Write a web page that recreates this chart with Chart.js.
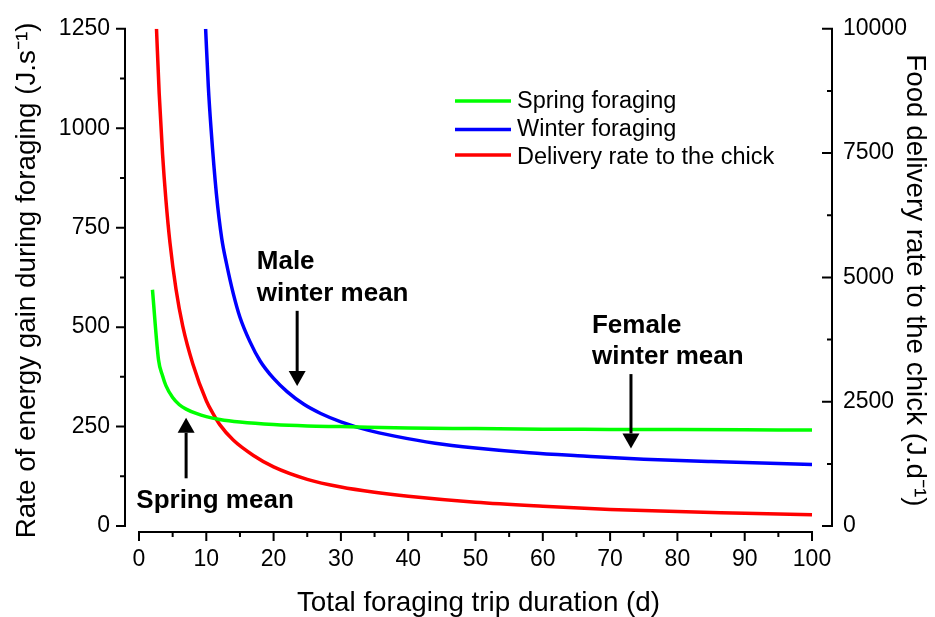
<!DOCTYPE html>
<html>
<head>
<meta charset="utf-8">
<script src="https://cdn.jsdelivr.net/npm/chart.js@4.4.0/dist/chart.umd.min.js"></script>
<style>
    html, body { margin: 0; padding: 0; background: #fff; }
    #grafico { display: block; }
</style>
</head>
<body>
<canvas id="grafico" width="935" height="617"></canvas>
<script>
const FONTE = '"Liberation Sans", Arial, Helvetica, sans-serif';

// duração da viagem (d) e ganho de energia na primavera (J/s)
const diasPrimavera = [2, 2.9, 3.5, 4, 5, 6, 7, 8.5, 10, 12, 15, 20, 25, 30, 40, 50, 60, 70, 80, 90, 100];
const ganhoPrimavera = [594, 418, 378, 353, 323, 305, 294, 283, 275, 268, 261.5, 255, 251.5, 250, 246.5, 245, 243.5, 243, 242.5, 242, 241.5];

// inverno (J/s)
const diasInverno = [9.9, 10.3, 10.7, 11.5, 12.3, 13, 14, 15, 16.5, 18, 20, 22, 24.5, 27, 30, 34, 38, 44, 50, 58, 66, 75, 85, 100];
const ganhoInverno = [1250, 1105, 1000, 835, 722, 660, 585, 525, 463, 415, 371, 338, 306, 283, 262, 241, 226, 208, 196, 184, 176, 168, 162, 155];

// entrega ao filhote (J/d), eixo da direita
const diasEntrega = [2.6, 3, 3.5, 4, 4.6, 5.5, 6.5, 8, 10, 11, 12, 14, 17, 20, 25, 30, 35, 40, 50, 60, 70, 80, 90, 100];
const taxaEntrega = [10000, 8700, 7480, 6560, 5700, 4760, 4020, 3260, 2520, 2260, 2040, 1730, 1420, 1190, 940, 785, 680, 600, 480, 400, 335, 290, 258, 225];

// marcas dos eixos
const ticksXMaiores = [0, 10, 20, 30, 40, 50, 60, 70, 80, 90, 100];
const ticksXMenores = [5, 15, 25, 35, 45, 55, 65, 75, 85, 95];
const ticksYMaiores = [0, 250, 500, 750, 1000, 1250];
const ticksYMenores = [125, 375, 625, 875, 1125];
const ticksY2Maiores = [0, 2500, 5000, 7500, 10000];
const ticksY2Menores = [1250, 3750, 6250, 8750];

// setas com texto (coordenadas em dias / J.s-1)
const anotacoes = [
    { linhas: ['Male', 'winter mean'], xTexto: 17.5, yTexto: 646, xSeta: 23.5, de: 541, ate: 352 },
    { linhas: ['Female', 'winter mean'], xTexto: 67.3, yTexto: 486, xSeta: 73.1, de: 382, ate: 195 },
    { linhas: ['Spring mean'], xTexto: -0.4, yTexto: 45, xSeta: 7.0, de: 120, ate: 272 }
];

function pontos(xs, ys) {
    return xs.map((x, i) => ({ x: x, y: ys[i] }));
}

function desenharSeta(ctx, x, y0, y1) {
    const dir = y1 > y0 ? 1 : -1;
    const ponta = 15;
    ctx.beginPath();
    ctx.moveTo(x, y0);
    ctx.lineTo(x, y1 - dir * ponta);
    ctx.stroke();
    ctx.beginPath();
    ctx.moveTo(x, y1);
    ctx.lineTo(x - 8.5, y1 - dir * ponta);
    ctx.lineTo(x + 8.5, y1 - dir * ponta);
    ctx.closePath();
    ctx.fill();
}

const eixosPlugin = {
    id: 'eixos',
    afterDraw(chart) {
        const { ctx, chartArea } = chart;
        const { x, y, y2 } = chart.scales;
        ctx.save();
        ctx.strokeStyle = '#000';
        ctx.fillStyle = '#000';
        ctx.lineWidth = 2;

        // eixo esquerdo
        const xe = chartArea.left;
        ctx.beginPath();
        ctx.moveTo(xe, y.getPixelForValue(1250) - 1);
        ctx.lineTo(xe, y.getPixelForValue(0) + 1);
        ticksYMaiores.forEach(v => { const p = y.getPixelForValue(v); ctx.moveTo(xe - 9, p); ctx.lineTo(xe, p); });
        ticksYMenores.forEach(v => { const p = y.getPixelForValue(v); ctx.moveTo(xe - 5, p); ctx.lineTo(xe, p); });
        ctx.stroke();

        // eixo direito
        const xd = chartArea.right;
        ctx.beginPath();
        ctx.moveTo(xd, y2.getPixelForValue(10000) - 1);
        ctx.lineTo(xd, y2.getPixelForValue(0) + 1);
        ticksY2Maiores.forEach(v => { const p = y2.getPixelForValue(v); ctx.moveTo(xd - 10, p); ctx.lineTo(xd, p); });
        ticksY2Menores.forEach(v => { const p = y2.getPixelForValue(v); ctx.moveTo(xd - 5, p); ctx.lineTo(xd, p); });
        ctx.stroke();

        // eixo de baixo
        const yb = chartArea.bottom;
        ctx.beginPath();
        ctx.moveTo(x.getPixelForValue(0) - 1, yb);
        ctx.lineTo(x.getPixelForValue(100) + 1, yb);
        ticksXMaiores.forEach(v => { const p = x.getPixelForValue(v); ctx.moveTo(p, yb); ctx.lineTo(p, yb + 9); });
        ticksXMenores.forEach(v => { const p = x.getPixelForValue(v); ctx.moveTo(p, yb); ctx.lineTo(p, yb + 5); });
        ctx.stroke();

        // setas e textos
        ctx.lineWidth = 3;
        ctx.font = 'bold 26px ' + FONTE;
        ctx.textAlign = 'left';
        ctx.textBaseline = 'alphabetic';
        anotacoes.forEach(a => {
            const tx = x.getPixelForValue(a.xTexto);
            const ty = y.getPixelForValue(a.yTexto);
            a.linhas.forEach((linha, i) => ctx.fillText(linha, tx, ty + i * 31.5));
            desenharSeta(ctx, x.getPixelForValue(a.xSeta), y.getPixelForValue(a.de), y.getPixelForValue(a.ate));
        });

        // legenda
        const linhasLegenda = [101, 129.5, 155];
        const textoLegenda = [101.5, 130, 158];
        ctx.font = '23.5px ' + FONTE;
        ctx.textBaseline = 'middle';
        chart.data.datasets.forEach((ds, i) => {
            ctx.strokeStyle = ds.borderColor;
            ctx.lineWidth = 3.5;
            ctx.beginPath();
            ctx.moveTo(455, linhasLegenda[i]);
            ctx.lineTo(511, linhasLegenda[i]);
            ctx.stroke();
            ctx.fillText(ds.label, 517, textoLegenda[i]);
        });
        ctx.restore();
    }
};

const fonteTicks = { family: FONTE, size: 23 };
const fonteTitulo = { family: FONTE, size: 27.8, lineHeight: 1 };
const semSeparador = v => String(v);

new Chart(document.getElementById('grafico'), {
    type: 'line',
    data: {
        datasets: [
            {
                label: 'Spring foraging',
                data: pontos(diasPrimavera, ganhoPrimavera),
                borderColor: '#00ff00',
                yAxisID: 'y'
            },
            {
                label: 'Winter foraging',
                data: pontos(diasInverno, ganhoInverno),
                borderColor: '#0000ff',
                yAxisID: 'y'
            },
            {
                label: 'Delivery rate to the chick',
                data: pontos(diasEntrega, taxaEntrega),
                borderColor: '#ff0000',
                yAxisID: 'y2'
            }
        ]
    },
    options: {
        responsive: false,
        animation: false,
        layout: { padding: { top: 25, left: 0, right: 0, bottom: 0 } },
        elements: {
            line: { borderWidth: 3.5, cubicInterpolationMode: 'monotone', fill: false },
            point: { radius: 0 }
        },
        plugins: {
            legend: { display: false },
            tooltip: { enabled: false }
        },
        scales: {
            x: {
                type: 'linear',
                min: -2.08,
                max: 102.97,
                afterBuildTicks: s => { s.ticks = ticksXMaiores.map(v => ({ value: v })); },
                afterFit: s => { s.height = 85; },
                ticks: { font: fonteTicks, color: '#000', padding: 14, maxRotation: 0, autoSkip: false, callback: semSeparador },
                grid: { display: false, drawTicks: false },
                border: { display: false },
                title: { display: true, text: 'Total foraging trip duration (d)', font: fonteTitulo, color: '#000', padding: 0 }
            },
            y: {
                position: 'left',
                min: -14.97,
                max: 1250,
                afterBuildTicks: s => { s.ticks = ticksYMaiores.map(v => ({ value: v })); },
                afterFit: s => { s.width = 125; },
                ticks: { font: fonteTicks, color: '#000', padding: 15, callback: semSeparador },
                grid: { display: false, drawTicks: false },
                border: { display: false },
                title: { display: true, text: 'Rate of energy gain during foraging (J.s\u207B\u00B9)', font: fonteTitulo, color: '#000', padding: { top: 13.5, bottom: 0 } }
            },
            y2: {
                position: 'right',
                min: -119.8,
                max: 10000,
                afterBuildTicks: s => { s.ticks = ticksY2Maiores.map(v => ({ value: v })); },
                afterFit: s => { s.width = 103; },
                ticks: { font: fonteTicks, color: '#000', padding: 11, callback: semSeparador },
                grid: { display: false, drawTicks: false },
                border: { display: false },
                title: { display: true, text: 'Food delivery rate to the chick (J.d\u207B\u00B9)', font: fonteTitulo, color: '#000', padding: { top: 6.5, bottom: 0 } }
            }
        }
    },
    plugins: [eixosPlugin]
});
</script>
</body>
</html>
